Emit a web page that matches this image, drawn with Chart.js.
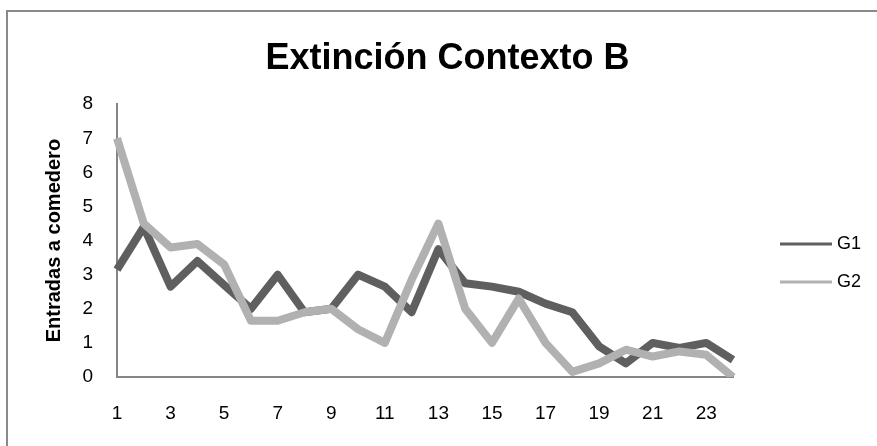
<!DOCTYPE html>
<html lang="es">
<head>
<meta charset="utf-8">
<title>Extinción Contexto B</title>
<script src="https://cdn.jsdelivr.net/npm/chart.js@4/dist/chart.umd.min.js"></script>
<style>
  html, body { margin: 0; padding: 0; background: #ffffff; overflow: hidden; }
  #wrap { position: relative; width: 877px; height: 446px; }
  #frame {
    position: absolute; left: 6px; top: 10px; width: 900px; height: 480px;
    border-left: 2px solid #898989; border-top: 2px solid #898989;
  }
  #chart { position: absolute; left: 0; top: 0; }
</style>
</head>
<body>
<div id="wrap">
  <div id="frame"></div>
  <canvas id="chart" width="877" height="446"></canvas>
</div>
<script>
// Sessions of the extinction phase in context B
const sessions = ['1','2','3','4','5','6','7','8','9','10','11','12',
                  '13','14','15','16','17','18','19','20','21','22','23','24'];

// Mean feeder entries per group
const g1 = [3.15, 4.4, 2.65, 3.4, 2.7, 2.0, 3.0, 1.9, 2.0, 3.0, 2.65, 1.9,
            3.75, 2.75, 2.65, 2.5, 2.15, 1.9, 0.9, 0.4, 1.0, 0.85, 1.0, 0.5];
const g2 = [7.0, 4.5, 3.8, 3.9, 3.3, 1.65, 1.65, 1.9, 2.0, 1.4, 1.0, 2.85,
            4.5, 2.0, 1.0, 2.3, 1.0, 0.15, 0.4, 0.8, 0.6, 0.75, 0.65, 0.0];

const seriesNames = ['G1', 'G2'];
const seriesColors = ['#5f5f5f', '#b1b1b1'];
const yTicks = [0, 1, 2, 3, 4, 5, 6, 7, 8];

const FONT = "'Liberation Sans', Arial, sans-serif";
const AXIS_GREY = '#868686';

// Series key drawn at the right of the plot: short line + name
const sideLegend = {
  id: 'sideLegend',
  afterDraw(chart) {
    const ctx = chart.ctx;
    const area = chart.chartArea;
    ctx.save();
    chart.data.datasets.forEach((ds, i) => {
      const y = 244 + i * 38;
      const x0 = area.right + 47;
      ctx.strokeStyle = ds.borderColor;
      ctx.lineWidth = 3;
      ctx.beginPath();
      ctx.moveTo(x0, y);
      ctx.lineTo(x0 + 52, y);
      ctx.stroke();
      ctx.fillStyle = '#000000';
      ctx.font = '18px ' + FONT;
      ctx.textBaseline = 'middle';
      ctx.textAlign = 'left';
      ctx.fillText(ds.label, x0 + 57, y);
    });
    ctx.restore();
  }
};

new Chart(document.getElementById('chart'), {
  type: 'line',
  data: {
    labels: sessions,
    datasets: [
      { label: seriesNames[0], data: g1, borderColor: seriesColors[0], order: 1 },
      { label: seriesNames[1], data: g2, borderColor: seriesColors[1], order: 0 }
    ]
  },
  options: {
    responsive: false,
    animation: false,
    devicePixelRatio: 1,
    layout: { padding: { left: 18, right: 0, top: 0, bottom: 0 } },
    elements: {
      line: { borderWidth: 8, tension: 0, borderJoinStyle: 'round', borderCapStyle: 'butt', fill: false },
      point: { radius: 0, hoverRadius: 0 }
    },
    plugins: {
      legend: { display: false },
      tooltip: { enabled: false },
      title: {
        display: true,
        text: 'Extinción Contexto B',
        color: '#000000',
        font: { family: FONT, size: 36, weight: 'bold' },
        padding: { top: 37, bottom: 24 }
      }
    },
    scales: {
      x: {
        type: 'category',
        offset: false,
        grid: { display: true, color: 'rgba(0,0,0,0)', drawTicks: false },
        border: { display: true, color: AXIS_GREY, width: 2 },
        ticks: {
          autoSkip: false,
          maxRotation: 0,
          padding: 25,
          color: '#000000',
          font: { family: FONT, size: 19 },
          callback(value, index) { return index % 2 === 0 ? sessions[index] : ''; }
        },
        afterFit(scale) {
          scale.height = 69;
          scale.paddingRight = 144;
        }
      },
      y: {
        min: 0,
        max: 8,
        grid: { display: true, color: 'rgba(0,0,0,0)', drawTicks: false },
        border: { display: true, color: AXIS_GREY, width: 2 },
        afterBuildTicks(scale) {
          scale.ticks = yTicks.map(v => ({ value: v }));
        },
        ticks: {
          padding: 24,
          color: '#000000',
          font: { family: FONT, size: 19 }
        },
        title: {
          display: true,
          text: 'Entradas a comedero',
          color: '#000000',
          font: { family: FONT, size: 20, weight: 'bold' },
          padding: { top: 24, bottom: 0 }
        },
        afterFit(scale) {
          scale.width = 99;
        }
      }
    }
  },
  plugins: [sideLegend]
});
</script>
</body>
</html>
